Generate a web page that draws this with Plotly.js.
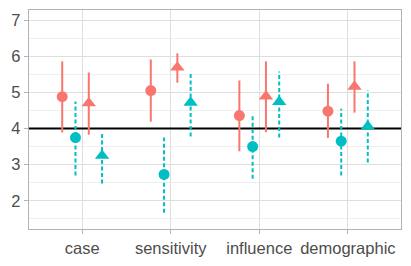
<!DOCTYPE html>
<html><head><meta charset="utf-8">
<script src="https://cdn.plot.ly/plotly-3.0.1.min.js"></script>
<style>html,body{margin:0;padding:0;background:#fff}#chart{width:411px;height:266px}</style>
</head><body><div id="chart"></div>
<script>
const categories = ['case','sensitivity','influence','demographic'];
const redCircleMean = [4.88, 5.05, 4.36, 4.48];
const redCircleLo   = [3.89, 4.19, 3.37, 3.74];
const redCircleHi   = [5.86, 5.91, 5.33, 5.24];
const tealCircleMean = [3.75, 2.73, 3.50, 3.65];
const tealCircleLo   = [2.70, 1.67, 2.61, 2.70];
const tealCircleHi   = [4.75, 3.75, 4.39, 4.55];
const redTriMean = [4.70, 5.69, 4.89, 5.16];
const redTriLo   = [3.83, 5.27, 3.90, 4.44];
const redTriHi   = [5.55, 6.08, 5.86, 5.86];
const tealTriMean = [3.25, 4.72, 4.74, 4.06];
const tealTriLo   = [2.48, 3.78, 3.75, 3.06];
const tealTriHi   = [3.88, 5.58, 5.58, 5.05];
const refLine = 4;

const RED = '#F8766D', TEAL = '#00BFC4';
const XR = [-0.6, 3.6];
const groups = [
  {mean: redCircleMean, lo: redCircleLo, hi: redCircleHi, off: -0.225, color: RED, symbol: 'circle', size: 11, dash: 'solid'},
  {mean: tealCircleMean, lo: tealCircleLo, hi: tealCircleHi, off: -0.075, color: TEAL, symbol: 'circle', size: 11, dash: '4px,2.5px'},
  {mean: redTriMean, lo: redTriLo, hi: redTriHi, off: 0.075, color: RED, symbol: 'triangle-up', size: 12.5, dash: 'solid'},
  {mean: tealTriMean, lo: tealTriLo, hi: tealTriHi, off: 0.225, color: TEAL, symbol: 'triangle-up', size: 12.5, dash: '4px,2.5px'}
];
const traces = [];
traces.push({x: XR, y: [refLine, refLine], mode: 'lines', type: 'scatter', line: {color: '#000', width: 2}, hoverinfo: 'skip', showlegend: false});
groups.forEach(g => {
  const xs = [], ys = [];
  categories.forEach((c, i) => { xs.push(i + g.off, i + g.off, null); ys.push(g.lo[i], g.hi[i], null); });
  traces.push({x: xs, y: ys, mode: 'lines', type: 'scatter', line: {color: g.color, width: 2, dash: g.dash}, hoverinfo: 'skip', showlegend: false});
});
groups.forEach(g => {
  traces.push({x: categories.map((c, i) => i + g.off), y: g.mean, mode: 'markers', type: 'scatter',
    marker: {color: g.color, symbol: g.symbol, size: g.size, line: {width: 0}}, showlegend: false});
});
const font = {family: 'Liberation Sans, Arial, sans-serif', size: 16.5, color: '#4D4D4D'};
const layout = {
  width: 411, height: 266,
  margin: {l: 29, r: 10, t: 10, b: 37},
  paper_bgcolor: '#fff', plot_bgcolor: '#fff',
  showlegend: false, font: font,
  xaxis: {range: XR, tickvals: categories.map((c, i) => i), ticktext: categories,
    showgrid: true, gridcolor: '#DEDEDE', gridwidth: 1.2, zeroline: false,
    showline: true, mirror: true, linecolor: '#B3B3B3', linewidth: 1.3,
    ticks: 'outside', ticklen: 4, tickcolor: '#B3B3B3', tickwidth: 1.2, tickfont: font},
  yaxis: {range: [1.22, 7.28], tickvals: [2,3,4,5,6,7],
    showgrid: true, gridcolor: '#DEDEDE', gridwidth: 1.2, zeroline: false,
    minor: {tickvals: [1.5,2.5,3.5,4.5,5.5,6.5], showgrid: true, gridcolor: '#EBEBEB', gridwidth: 0.8},
    showline: true, mirror: true, linecolor: '#B3B3B3', linewidth: 1.3,
    ticks: 'outside', ticklen: 4, tickcolor: '#B3B3B3', tickwidth: 1.2, tickfont: font}
};
Plotly.newPlot('chart', traces, layout, {displayModeBar: false, staticPlot: true});
</script></body></html>
